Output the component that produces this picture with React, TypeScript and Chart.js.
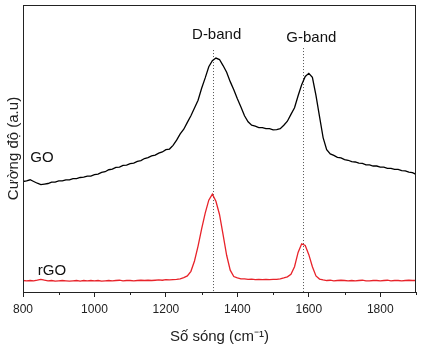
import React, { useEffect, useRef } from "react";
import { Chart, registerables } from "chart.js";

Chart.register(...registerables);

const wavenumbers: number[] = Array.from({ length: 111 }, (_, i) => 800 + i * 10);

const goIntensity: number[] = [
  38.5, 38.7, 39.1, 38.5, 37.9, 37.4, 37.6, 37.8, 38.3, 38.3,
  38.7, 38.7, 39.1, 39.1, 39.5, 39.5, 39.9, 40.0, 40.4, 40.4,
  40.9, 41.1, 41.7, 41.9, 42.6, 42.8, 43.4, 43.5, 44.1, 44.2,
  44.7, 44.9, 45.5, 45.8, 46.5, 46.8, 47.4, 47.7, 48.4, 48.8,
  49.6, 49.8, 51.1, 52.9, 55.1, 56.7, 59.1, 61.4, 64.1, 66.8,
  71.0, 74.6, 78.5, 80.6, 81.5, 81.0, 78.9, 76.6, 73.3, 70.5,
  67.3, 64.5, 61.4, 59.3, 58.1, 57.8, 57.3, 57.3, 56.9, 56.9,
  56.5, 56.6, 56.9, 58.1, 59.5, 61.9, 64.2, 68.4, 72.2, 75.1,
  76.2, 74.8, 68.5, 61.1, 53.8, 49.6, 48.1, 47.6, 46.9, 46.7,
  46.1, 45.9, 45.4, 45.3, 44.9, 44.8, 44.3, 44.3, 43.9, 43.9,
  43.5, 43.5, 43.1, 43.1, 42.7, 42.7, 42.3, 42.2, 41.8, 41.6,
  41.0,
];

const rgoIntensity: number[] = [
  4.0, 3.9, 4.0, 3.9, 4.1, 4.4, 4.1, 3.9, 4.0, 3.8,
  3.9, 4.0, 3.9, 3.8, 3.9, 4.0, 3.8, 4.0, 3.9, 4.0,
  3.9, 4.0, 3.8, 3.9, 4.0, 3.9, 4.0, 4.1, 3.9, 4.0,
  4.0, 3.9, 4.0, 4.1, 4.0, 4.1, 4.0, 4.1, 4.2, 4.1,
  4.3, 4.2, 4.3, 4.4, 4.6, 5.0, 5.6, 7.2, 10.8, 16.0,
  22.0, 27.5, 32.0, 34.1, 31.6, 27.0, 20.0, 12.8, 7.6, 5.4,
  4.9, 4.6, 4.6, 4.4, 4.5, 4.3, 4.4, 4.3, 4.4, 4.3,
  4.4, 4.4, 4.6, 4.9, 5.3, 6.2, 8.8, 13.8, 16.8, 16.2,
  13.0, 8.8, 5.6, 4.5, 4.2, 4.0, 4.1, 3.9, 4.0, 4.1,
  4.0, 3.9, 4.0, 3.9, 4.0, 4.1, 3.9, 3.9, 4.0, 4.0,
  3.9, 4.0, 4.1, 3.9, 4.0, 4.0, 3.9, 4.0, 4.1, 4.0,
  4.0,
];

const bandPositions: number[] = [1331, 1583];
const bandLabels: string[] = ["D-band", "G-band"];
const seriesLabels: string[] = ["GO", "rGO"];

const FONT = "'Liberation Sans', Arial, sans-serif";

const decorPlugin = {
  id: "decor",
  beforeDatasetsDraw(chart: any) {
    const { ctx, chartArea, scales } = chart;
    const x = scales.x;
    const y = scales.y;
    ctx.save();
    ctx.strokeStyle = "#555";
    ctx.lineWidth = 1;
    ctx.setLineDash([1, 2]);
    const tops = [84.3, 85.0];
    bandPositions.forEach((b, i) => {
      const px = Math.round(x.getPixelForValue(b)) + 0.5;
      ctx.beginPath();
      ctx.moveTo(px, y.getPixelForValue(tops[i]));
      ctx.lineTo(px, chartArea.bottom);
      ctx.stroke();
    });
    ctx.restore();
  },
  afterDraw(chart: any) {
    const { ctx, chartArea, scales } = chart;
    const x = scales.x;
    const y = scales.y;
    ctx.save();
    ctx.strokeStyle = "#222";
    ctx.lineWidth = 1;
    ctx.strokeRect(
      Math.round(chartArea.left) + 0.5,
      Math.round(chartArea.top) + 0.5,
      Math.round(chartArea.right - chartArea.left) - 1,
      Math.round(chartArea.bottom - chartArea.top)
    );
    for (let v = 900; v <= 1900; v += 200) {
      const px = Math.round(x.getPixelForValue(v)) + 0.5;
      ctx.beginPath();
      ctx.moveTo(px, chartArea.bottom);
      ctx.lineTo(px, chartArea.bottom + 3);
      ctx.stroke();
    }
    ctx.fillStyle = "#111";
    ctx.font = `15px ${FONT}`;
    ctx.textAlign = "center";
    ctx.textBaseline = "middle";
    ctx.fillText(bandLabels[0], x.getPixelForValue(1342), y.getPixelForValue(89.5));
    ctx.fillText(bandLabels[1], x.getPixelForValue(1607), y.getPixelForValue(88.5));
    ctx.fillText(seriesLabels[0], x.getPixelForValue(853), y.getPixelForValue(46.7));
    ctx.fillText(seriesLabels[1], x.getPixelForValue(881), y.getPixelForValue(7.3));
    ctx.restore();
  },
};

export default function App() {
  const ref = useRef<HTMLCanvasElement | null>(null);

  useEffect(() => {
    if (!ref.current) return;
    const chart = new Chart(ref.current, {
      type: "line",
      data: {
        datasets: [
          {
            label: seriesLabels[0],
            data: wavenumbers.map((w, i) => ({ x: w, y: goIntensity[i] })),
            borderColor: "#000",
            borderWidth: 1.3,
            pointRadius: 0,
            tension: 0,
          },
          {
            label: seriesLabels[1],
            data: wavenumbers.map((w, i) => ({ x: w, y: rgoIntensity[i] })),
            borderColor: "#e8232a",
            borderWidth: 1.3,
            pointRadius: 0,
            tension: 0,
          },
        ],
      },
      options: {
        animation: false,
        responsive: false,
        maintainAspectRatio: false,
        layout: { padding: { top: 5, right: 4, left: 0, bottom: 0 } },
        plugins: { legend: { display: false }, tooltip: { enabled: false } },
        scales: {
          x: {
            type: "linear",
            min: 800,
            max: 1900,
            afterFit: (s: any) => {
              s.height = 54;
            },
            border: { display: true, color: "#222", width: 1 },
            grid: {
              drawOnChartArea: false,
              drawTicks: true,
              tickLength: 5,
              tickColor: (c: any) => (c.tick && c.tick.value % 200 === 0 ? "#222" : "rgba(0,0,0,0)"),
            },
            ticks: {
              stepSize: 100,
              autoSkip: false,
              maxRotation: 0,
              padding: 5,
              color: "#222",
              font: { family: FONT, size: 12 },
              callback: (v: any) => (Number(v) % 200 === 0 ? String(v) : ""),
            },
            title: {
              display: true,
              text: "Số sóng (cm⁻¹)",
              color: "#222",
              font: { family: FONT, size: 15 },
              padding: { top: 0, bottom: 0 },
            },
          },
          y: {
            type: "linear",
            min: 0,
            max: 100,
            afterFit: (s: any) => {
              s.width = 23;
            },
            border: { display: true, color: "#222", width: 1 },
            grid: { display: false },
            ticks: { display: false },
            title: {
              display: true,
              text: "Cường độ (a.u)",
              color: "#222",
              font: { family: FONT, size: 15 },
              padding: { top: 5, bottom: 0 },
            },
          },
        },
      },
      plugins: [decorPlugin],
    });
    return () => chart.destroy();
  }, []);

  return (
    <div style={{ position: "absolute", left: 0, top: 0, width: 421, height: 346, background: "#fff" }}>
      <canvas ref={ref} width={421} height={346} />
    </div>
  );
}
